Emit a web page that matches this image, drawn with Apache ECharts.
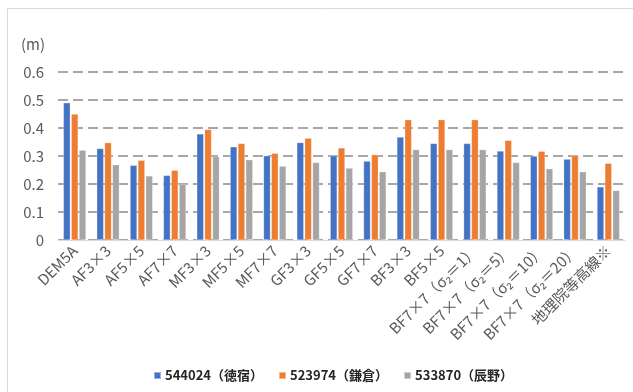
<!DOCTYPE html>
<html>
<head>
<meta charset="utf-8">
<script src="https://cdn.jsdelivr.net/npm/echarts@6/dist/echarts.min.js"></script>
<style>
  html, body { margin: 0; padding: 0; background: #fff; }
  #chart { width: 633px; height: 392px; }
</style>
</head>
<body>
<div id="chart"></div>
<script>
// Filter methods compared
const categories = [
  'DEM5A', 'AF3×3', 'AF5×5', 'AF7×7', 'MF3×3', 'MF5×5', 'MF7×7',
  'GF3×3', 'GF5×5', 'GF7×7', 'BF3×3', 'BF5×5',
  'BF7×7（σ₂＝1）', 'BF7×7（σ₂＝5）', 'BF7×7（σ₂＝10）', 'BF7×7（σ₂＝20）',
  '地理院等高線※'
];

const seriesNames = ['544024（徳宿）', '523974（鎌倉）', '533870（辰野）'];

// Values in metres
const tokushuku = [0.490, 0.327, 0.267, 0.231, 0.379, 0.333, 0.301, 0.348, 0.301, 0.282, 0.368, 0.345, 0.345, 0.318, 0.300, 0.289, 0.190];
const kamakura  = [0.450, 0.348, 0.285, 0.249, 0.395, 0.345, 0.310, 0.364, 0.329, 0.305, 0.430, 0.430, 0.430, 0.356, 0.317, 0.302, 0.274];
const tatsuno   = [0.321, 0.269, 0.229, 0.200, 0.298, 0.287, 0.264, 0.277, 0.257, 0.244, 0.323, 0.323, 0.323, 0.277, 0.255, 0.244, 0.177];

const colors = ['#4472c4', '#ed7d31', '#a5a5a5'];
const FONT = '"Noto Sans CJK JP", "Noto Sans", sans-serif';

const chart = echarts.init(document.getElementById('chart'));

function bar(name, data, color) {
  return {
    name: name,
    type: 'bar',
    data: data,
    barGap: '12%',
    barCategoryGap: '32%',
    itemStyle: { color: color, borderColor: 'rgba(255,255,255,0.45)', borderWidth: 0.6 }
  };
}

chart.setOption({
  animation: false,
  color: colors,
  textStyle: { fontFamily: FONT },
  grid: { left: 58, right: 8, top: 72, bottom: 152, containLabel: false },
  graphic: [
    {
      type: 'rect',
      shape: { x: 7.5, y: 8.5, width: 640, height: 400 },
      style: { fill: 'none', stroke: '#d9d9d9', lineWidth: 1 },
      silent: true
    },
    {
      type: 'text',
      left: 21, top: 37,
      style: { text: '(m)', fill: '#595959', font: '15px ' + FONT }
    }
  ],
  legend: {
    bottom: 5,
    left: 148,
    itemWidth: 7,
    itemHeight: 7,
    itemGap: 15,
    icon: 'rect',
    textStyle: { color: '#262626', fontSize: 13, fontWeight: 'bold', fontFamily: FONT, padding: [0, 0, 0, -1] },
    data: seriesNames
  },
  xAxis: {
    type: 'category',
    data: categories,
    axisLine: { lineStyle: { color: '#d9d9d9', width: 1 } },
    axisTick: { show: false },
    axisLabel: {
      interval: 0,
      rotate: 45,
      color: '#595959',
      fontSize: 15,
      fontFamily: FONT,
      margin: 8
    }
  },
  yAxis: {
    type: 'value',
    min: 0,
    max: 0.6,
    interval: 0.1,
    axisLine: { show: false },
    axisTick: { show: false },
    axisLabel: {
      color: '#595959',
      fontSize: 15,
      fontFamily: FONT,
      margin: 14,
      formatter: function (v) { return v === 0 ? '0' : v.toFixed(1); }
    },
    splitLine: {
      lineStyle: { color: '#8a8a8a', width: 1.5, type: [10, 5] }
    }
  },
  series: [
    bar(seriesNames[0], tokushuku, colors[0]),
    bar(seriesNames[1], kamakura, colors[1]),
    bar(seriesNames[2], tatsuno, colors[2])
  ]
});
</script>
</body>
</html>
